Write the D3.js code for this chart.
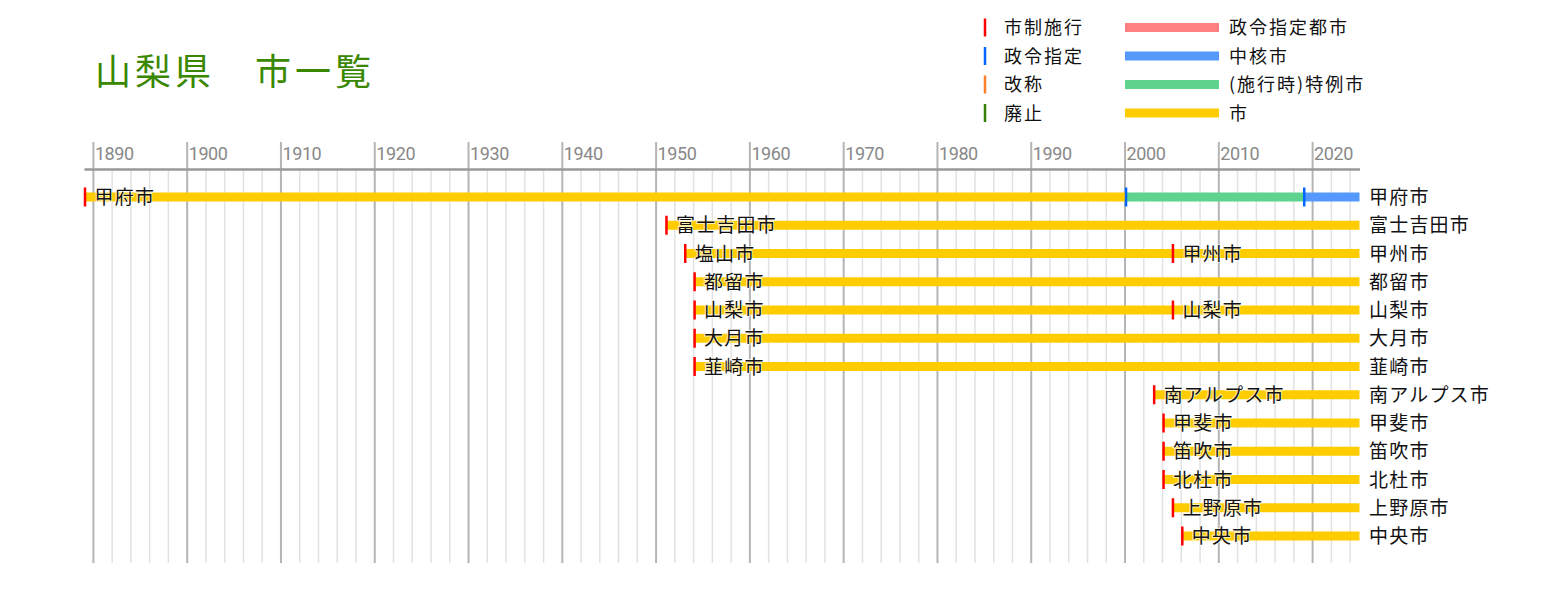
<!DOCTYPE html>
<html><head><meta charset="utf-8">
<script src="https://cdn.jsdelivr.net/npm/d3@7"></script>
<style>
html,body{margin:0;padding:0;background:#fff;}
svg{display:block;}
</style></head>
<body>
<svg id="c" width="1547" height="591"></svg>
<script>
// ---- data ----
const cities = ["甲府市","富士吉田市","甲州市","都留市","山梨市","大月市","韮崎市","南アルプス市","甲斐市","笛吹市","北杜市","上野原市","中央市"];
const startNames = ["甲府市","富士吉田市","塩山市","都留市","山梨市","大月市","韮崎市","南アルプス市","甲斐市","笛吹市","北杜市","上野原市","中央市"];
const startYears = [1889,1951,1953,1954,1954,1954,1954,2003,2004,2004,2004,2005,2006];
const endYear = 2025;
const eventRows = [0,0,2,4];
const eventYears = [2000,2019,2005,2005];
const eventKinds = ["政令指定","政令指定","市制施行","市制施行"];
const eventLabels = ["","","甲州市","山梨市"];
const statusRows = [0,0];
const statusYears = [2000,2019];
const statusTypes = ["(施行時)特例市","中核市"];
const majorTicks = [1890,1900,1910,1920,1930,1940,1950,1960,1970,1980,1990,2000,2010,2020];
const markKinds = ["市制施行","政令指定","改称","廃止"];
const barKinds = ["政令指定都市","中核市","(施行時)特例市","市"];
const title = "山梨県　市一覧";

// ---- styles ----
const markColor = {"市制施行":"#ff0000","政令指定":"#0066ff","改称":"#ff7f2a","廃止":"#338000"};
const barColor = {"政令指定都市":"#ff8080","中核市":"#5599ff","(施行時)特例市":"#5fd38d","市":"#ffcc00"};
const JP = "'Noto Sans CJK JP','Noto Sans',sans-serif";

const svg = d3.select("#c");
const x = d3.scaleLinear().domain([1889, endYear]).range([84, 1359.5]);
const y = d3.scalePoint().domain(d3.range(cities.length)).range([197, 536]);
const gridTop = 169, gridBottom = 563;

// minor grid
const minorTicks = d3.range(1890, endYear, 2).filter(v => v % 10 !== 0);
svg.append("g").selectAll("line").data(minorTicks).join("line")
  .attr("x1", d=>x(d)).attr("x2", d=>x(d)).attr("y1", gridTop).attr("y2", gridBottom)
  .attr("stroke", "#e2e2e2").attr("stroke-width", 1.5);
// major grid
svg.append("g").selectAll("line").data(majorTicks).join("line")
  .attr("x1", d=>x(d)).attr("x2", d=>x(d)).attr("y1", 142).attr("y2", gridBottom)
  .attr("stroke", "#b5b5b5").attr("stroke-width", 2);
// axis
const axis = d3.axisTop(x).tickValues(majorTicks).tickFormat(d3.format("d")).tickSize(0);
const ag = svg.append("g").attr("transform", `translate(0,${gridTop})`).call(axis);
ag.select(".domain").attr("stroke", "#999").attr("stroke-width", 2.5);
ag.selectAll("text").attr("text-anchor","start").attr("dx", 1).attr("y", -9.5).attr("dy", 0)
  .attr("fill", "#888").attr("font-family", "Roboto, sans-serif").attr("font-size", 18)
  .attr("letter-spacing", -0.4);

// segments
const segs = [];
cities.forEach((c, i) => {
  const changes = statusRows.map((r,k)=>({r, y:statusYears[k], t:statusTypes[k]})).filter(s=>s.r===i);
  let cur = startYears[i], type = "市";
  changes.forEach(s => { segs.push({row:i, s:cur, e:s.y, t:type}); cur = s.y; type = s.t; });
  segs.push({row:i, s:cur, e:endYear, t:type});
});
svg.append("g").selectAll("line").data(segs).join("line")
  .attr("x1", d=>x(d.s)).attr("x2", d=>x(d.e)).attr("y1", d=>y(d.row)).attr("y2", d=>y(d.row))
  .attr("stroke", d=>barColor[d.t]).attr("stroke-width", 9);

// marks
const marks = startYears.map((yr,i)=>({row:i, yr, k:"市制施行", label:startNames[i]}))
  .concat(eventRows.map((r,k)=>({row:r, yr:eventYears[k], k:eventKinds[k], label:eventLabels[k]})));
svg.append("g").selectAll("line").data(marks).join("line")
  .attr("x1", d=>x(d.yr)+1).attr("x2", d=>x(d.yr)+1).attr("y1", d=>y(d.row)-9.5).attr("y2", d=>y(d.row)+9.5)
  .attr("stroke", d=>markColor[d.k]).attr("stroke-width", 2.5);

// inline labels
svg.append("g").selectAll("text").data(marks.filter(d=>d.label)).join("text")
  .attr("x", d=>x(d.yr)+10.5).attr("y", d=>y(d.row)+7)
  .attr("font-family", JP).attr("font-size", 19).attr("letter-spacing", 1.2).attr("fill", "#111")
  .attr("stroke", "rgba(255,255,255,0.7)").attr("stroke-width", 2).attr("paint-order","stroke")
  .text(d=>d.label);
// right labels
svg.append("g").selectAll("text").data(cities).join("text")
  .attr("x", x(endYear)+9.5).attr("y", (d,i)=>y(i)+7)
  .attr("font-family", JP).attr("font-size", 19).attr("letter-spacing", 1.2).attr("fill", "#111").text(d=>d);

// title
svg.append("text").attr("x", 95).attr("y", 85).attr("font-family", JP).attr("font-size", 36)
  .attr("letter-spacing", 4).attr("fill", "#3a8700").text(title);

// legend
const ly = d3.scalePoint().domain(d3.range(4)).range([27.5, 113]);
const lg = svg.append("g");
lg.selectAll("line.m").data(markKinds).join("line").attr("class","m")
  .attr("x1", 985).attr("x2", 985).attr("y1", (d,i)=>ly(i)-9).attr("y2", (d,i)=>ly(i)+9)
  .attr("stroke", d=>markColor[d]).attr("stroke-width", 2.5);
lg.selectAll("text.m").data(markKinds).join("text").attr("class","m")
  .attr("x", 1004).attr("y", (d,i)=>ly(i)+6.5).attr("font-family", JP).attr("font-size", 18)
  .attr("letter-spacing", 2).attr("fill", "#111").text(d=>d);
lg.selectAll("line.b").data(barKinds).join("line").attr("class","b")
  .attr("x1", 1125).attr("x2", 1219).attr("y1", (d,i)=>ly(i)).attr("y2", (d,i)=>ly(i))
  .attr("stroke", d=>barColor[d]).attr("stroke-width", 9);
lg.selectAll("text.b").data(barKinds).join("text").attr("class","b")
  .attr("x", 1229).attr("y", (d,i)=>ly(i)+6.5).attr("font-family", JP).attr("font-size", 18)
  .attr("letter-spacing", 2).attr("fill", "#111").text(d=>d);
</script>
</body></html>
